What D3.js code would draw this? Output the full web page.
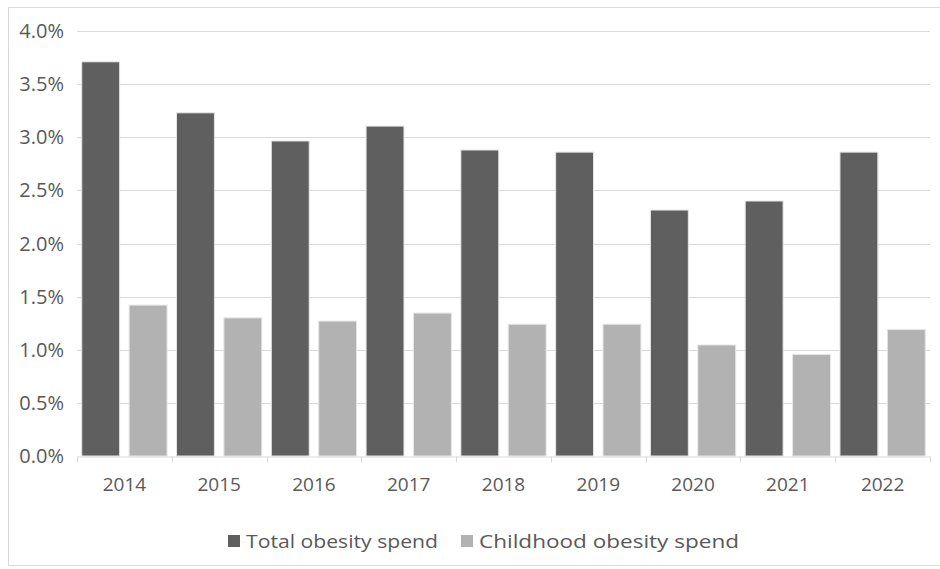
<!DOCTYPE html>
<html>
<head>
<meta charset="utf-8">
<script src="https://cdn.jsdelivr.net/npm/d3@7"></script>
<style>
  body { margin: 0; background: #fff; }
  text { font-family: "Open Sans", "Liberation Sans", sans-serif; fill: #595959; }
</style>
</head>
<body>
<div class="canvas"></div>
<script>
const years = ['2014', '2015', '2016', '2017', '2018', '2019', '2020', '2021', '2022'];
const totalSpend = [3.71, 3.23, 2.965, 3.105, 2.88, 2.86, 2.315, 2.40, 2.86];
const childSpend = [1.42, 1.30, 1.27, 1.345, 1.24, 1.24, 1.045, 0.955, 1.19];
const yTicks = [0, 0.5, 1.0, 1.5, 2.0, 2.5, 3.0, 3.5, 4.0];

const series = [
  {name: 'Total obesity spend', values: totalSpend, color: '#5f5f5f'},
  {name: 'Childhood obesity spend', values: childSpend, color: '#b2b2b2'}
];

const dim = {width: 940, height: 569};
const plot = {left: 77, right: 930, top: 31, bottom: 456};

const svg = d3.select('.canvas')
  .append('svg')
  .attr('width', dim.width)
  .attr('height', dim.height);

// chart frame
svg.append('rect')
  .attr('x', 8.5).attr('y', 7.5)
  .attr('width', 940).attr('height', 558)
  .attr('fill', 'none')
  .attr('stroke', '#d9d9d9');

const x = d3.scaleBand()
  .domain(years)
  .range([plot.left, plot.right]);

const xInner = d3.scaleBand()
  .domain(series.map(s => s.name))
  .range([0, x.bandwidth()])
  .paddingInner(0.2)
  .paddingOuter(0.1);

const y = d3.scaleLinear()
  .domain([0, 4])
  .range([plot.bottom, plot.top]);

// gridlines
svg.append('g')
  .selectAll('line')
  .data(yTicks.slice(1))
  .join('line')
  .attr('x1', plot.left).attr('x2', plot.right)
  .attr('y1', d => Math.round(y(d)) + 0.5)
  .attr('y2', d => Math.round(y(d)) + 0.5)
  .attr('stroke', '#d9d9d9')
  .attr('stroke-width', 1);

// y labels
svg.append('g')
  .selectAll('text')
  .data(yTicks)
  .join('text')
  .attr('x', 64)
  .attr('y', d => y(d))
  .attr('dy', '0.35em')
  .attr('text-anchor', 'end')
  .style('font-size', '20px')
  .text(d => d.toFixed(1) + '%');

// bars
const groups = svg.append('g')
  .selectAll('g')
  .data(series)
  .join('g')
  .attr('fill', d => d.color);

groups.selectAll('rect')
  .data(s => s.values.map((v, i) => ({name: s.name, year: years[i], value: v})))
  .join('rect')
  .attr('x', d => x(d.year) + xInner(d.name))
  .attr('y', d => y(d.value))
  .attr('width', xInner.bandwidth())
  .attr('height', d => y(0) - y(d.value))
  .attr('stroke', '#e6e6e6')
  .attr('stroke-width', 1);

// x axis
const xAxis = d3.axisBottom(x).tickSize(0).tickFormat(d => d);
const xg = svg.append('g')
  .attr('transform', `translate(0,${Math.round(plot.bottom) + 0.5})`)
  .call(xAxis);
xg.select('.domain').attr('stroke', '#d9d9d9');
xg.selectAll('text')
  .attr('y', 33)
  .attr('dy', '0.1em')
  .style('font-size', '19px')
  .style('font-family', null);
// tick marks between categories
xg.selectAll('.sep')
  .data(years.concat(['end']))
  .join('line')
  .attr('class', 'sep')
  .attr('x1', (d, i) => Math.round(plot.left + i * x.bandwidth()) + 0.5)
  .attr('x2', (d, i) => Math.round(plot.left + i * x.bandwidth()) + 0.5)
  .attr('y1', 0).attr('y2', 6)
  .attr('stroke', '#d9d9d9');

// legend
const legendPos = [228, 461];
const legend = svg.append('g')
  .selectAll('g')
  .data(series)
  .join('g')
  .attr('transform', (d, i) => `translate(${legendPos[i]},541)`);
legend.append('rect')
  .attr('x', 0).attr('y', -6)
  .attr('width', 12).attr('height', 12)
  .attr('fill', d => d.color);
legend.append('text')
  .attr('x', 18)
  .attr('dy', '0.35em')
  .style('font-size', '19px')
  .attr('textLength', (d, i) => [192, 260][i])
  .attr('lengthAdjust', 'spacingAndGlyphs')
  .text(d => d.name);
</script>
</body>
</html>
